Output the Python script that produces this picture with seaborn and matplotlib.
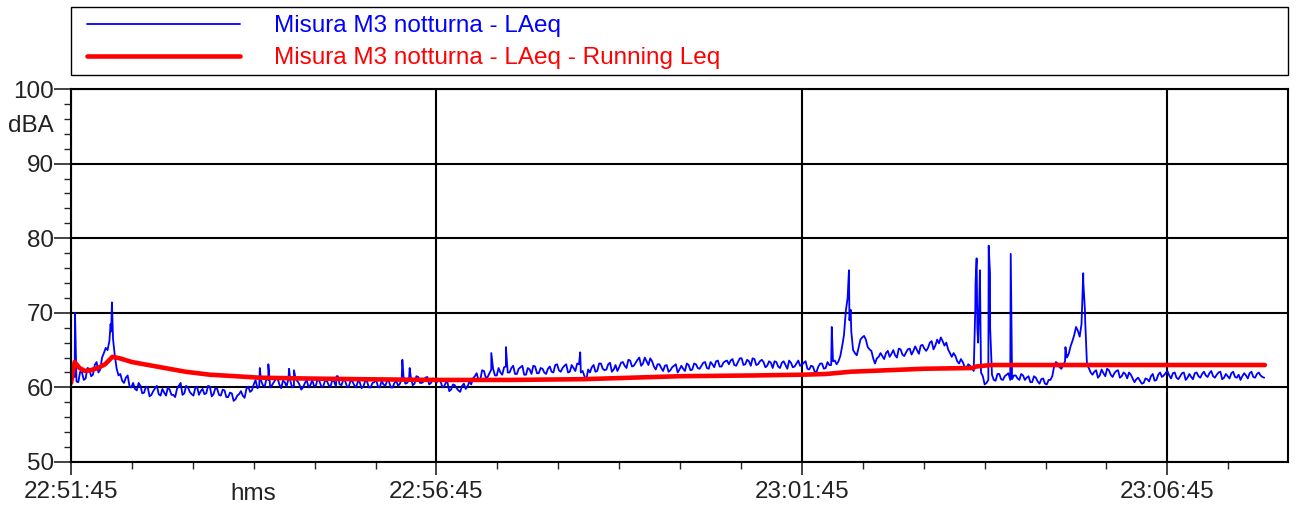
import numpy as np
import pandas as pd
import seaborn as sns
import matplotlib.pyplot as plt
from matplotlib.patches import Rectangle
from matplotlib.ticker import MultipleLocator, FuncFormatter

# ora di inizio della misura (22:51:45) e passo della serie LAeq in secondi
inizio_s = 22 * 3600 + 51 * 60 + 45
passo_s = 3

# LAeq, un valore ogni 3 s (dB), a partire da t = 0
laeq_base = [
    60.6, 61.4, 60.7, 62.0, 61.2, 62.5, 61.7, 63.4, 62.4, 64.6,
    65.0, 67.5, 64.2, 61.6, 60.9, 61.3, 60.2, 60.6, 59.6, 60.2,
    59.3, 60.0, 59.0, 59.9, 59.1, 59.8, 58.9, 59.7, 59.0, 59.8,
    60.6, 59.2, 60.0, 59.1, 59.9, 59.0, 59.8, 59.2, 60.1, 59.1,
    59.8, 58.9, 59.6, 58.7, 59.2, 58.4, 59.1, 58.9, 59.8, 59.4,
    60.4, 59.9, 60.9, 60.1, 61.0, 60.3, 61.1, 60.4, 60.9, 60.1,
    60.9, 60.2, 60.8, 59.7, 60.6, 60.0, 61.0, 60.2, 60.8, 60.1,
    60.9, 60.1, 60.8, 61.5, 60.3, 60.9, 60.1, 60.8, 60.0, 60.7,
    60.1, 60.8, 60.0, 60.7, 60.1, 60.9, 60.2, 60.8, 60.0, 60.9,
    60.5, 61.4, 60.6, 61.3, 60.5, 61.4, 60.6, 61.3, 60.4, 61.2,
    60.6, 61.0, 60.0, 60.7, 59.7, 60.3, 59.6, 60.2, 59.8, 60.8,
    61.2, 61.9, 61.1, 62.2, 61.4, 62.4, 61.6, 62.6, 61.7, 62.8,
    62.0, 62.9, 61.8, 62.7, 61.7, 62.6, 61.8, 62.8, 61.9, 62.5,
    61.8, 62.8, 62.0, 63.1, 62.1, 62.9, 62.0, 63.0, 62.2, 63.1,
    62.2, 61.0, 62.0, 63.0, 62.2, 63.2, 62.3, 63.1, 62.1, 63.0,
    62.7, 63.4, 62.6, 63.6, 62.9, 63.7, 62.9, 64.0, 63.0, 63.5,
    62.4, 63.1, 62.2, 63.0, 62.3, 62.9, 62.0, 62.9, 62.2, 63.0,
    62.4, 63.1, 62.5, 63.3, 62.6, 63.4, 62.7, 63.6, 62.8, 63.5,
    63.1, 63.8, 62.9, 63.9, 63.0, 63.7, 62.9, 63.8, 63.1, 63.7,
    62.7, 63.5, 62.6, 63.4, 62.6, 63.5, 62.5, 63.3, 62.8, 63.6,
    63.0, 63.5, 62.4, 62.8, 62.1, 63.2, 62.5, 63.4, 63.0, 63.6,
    63.5, 65.5, 70.2, 69.0, 65.0, 64.3, 66.4, 66.9, 65.4, 64.9,
    63.2, 64.1, 64.2, 64.6, 64.1, 65.0, 64.0, 65.1, 64.2, 65.1,
    64.4, 65.5, 64.5, 65.7, 64.9, 66.0, 65.1, 66.4, 66.7, 65.6,
    65.1, 64.1, 64.2, 63.2, 63.4, 62.5, 62.9, 62.2, 68.0, 62.0,
    60.4, 61.0, 61.7, 60.9, 61.8, 61.0, 61.7, 61.0, 61.6, 61.2,
    61.8, 61.0, 61.5, 60.7, 61.3, 60.5, 61.2, 60.4, 61.0, 62.8,
    63.2, 62.5, 63.5, 64.5, 66.2, 68.1, 66.8, 74.0, 63.0, 62.0,
    62.1, 61.3, 62.4, 61.5, 62.3, 61.4, 62.2, 61.3, 62.0, 61.2,
    61.7, 60.7, 61.3, 60.5, 61.2, 60.8, 61.8, 61.0, 62.0, 61.6,
    62.2, 61.2, 62.0, 61.1, 61.9, 61.0, 61.8, 61.1, 62.0, 61.3,
    62.1, 61.4, 62.2, 61.3, 62.0, 61.1, 61.8, 61.2, 62.1, 61.3,
    61.0, 61.9, 61.2, 62.1, 61.3, 62.0, 61.4,
]

# LAeq a meta' passo, a partire da t = 1.5 s (dB)
laeq_mezzo = [
    61.5, 60.8, 62.1, 61.0, 62.6, 61.5, 63.0, 62.0, 64.0, 65.3,
    66.2, 66.5, 62.5, 61.8, 60.6, 61.6, 60.0, 59.8, 60.6, 59.2,
    60.1, 58.8, 59.5, 60.2, 58.9, 59.3, 60.0, 59.0, 58.7, 60.2,
    59.0, 60.2, 59.4, 58.9, 60.1, 59.5, 59.1, 60.2, 58.8, 59.9,
    59.0, 59.7, 58.7, 59.3, 58.2, 58.9, 59.5, 58.6, 60.1, 59.6,
    61.0, 60.1, 60.3, 61.2, 60.0, 60.7, 61.3, 59.9, 60.7, 61.2,
    60.0, 61.1, 60.4, 60.0, 61.0, 60.3, 60.2, 61.2, 60.1, 60.9,
    60.3, 61.0, 60.1, 60.4, 61.0, 60.1, 60.9, 60.3, 60.8, 59.9,
    60.9, 60.0, 60.6, 61.0, 60.0, 60.4, 60.9, 60.0, 60.6, 60.2,
    61.2, 60.5, 61.1, 60.3, 61.5, 60.6, 60.8, 61.4, 60.6, 60.9,
    61.1, 60.2, 60.6, 59.5, 60.4, 59.9, 59.4, 60.5, 60.1, 60.4,
    61.5, 61.0, 62.3, 61.3, 61.9, 62.5, 61.6, 62.0, 62.7, 62.0,
    62.6, 61.8, 62.5, 62.9, 61.7, 62.4, 62.9, 61.9, 62.6, 62.0,
    62.5, 62.1, 63.0, 62.3, 62.6, 63.1, 62.1, 62.6, 63.2, 62.0,
    61.5, 62.4, 62.7, 62.1, 63.2, 62.5, 62.4, 63.3, 62.4, 62.2,
    63.3, 62.9, 63.7, 62.8, 63.3, 64.0, 63.2, 63.5, 63.9, 62.8,
    63.1, 62.6, 62.9, 62.1, 62.7, 63.1, 62.4, 62.5, 63.2, 62.3,
    63.2, 62.6, 62.9, 63.4, 62.5, 63.1, 63.5, 62.8, 63.3, 63.6,
    63.6, 63.0, 63.4, 63.9, 63.1, 63.5, 63.9, 63.0, 63.5, 63.4,
    62.9, 63.3, 63.5, 62.8, 63.3, 63.0, 63.6, 62.7, 63.2, 62.9,
    63.3, 62.5, 62.9, 62.1, 62.8, 63.2, 62.6, 63.0, 63.5, 63.1,
    64.2, 67.0, 72.0, 67.5, 64.6, 65.3, 66.7, 66.4, 65.1, 63.9,
    63.9, 64.6, 63.8, 64.9, 64.5, 64.3, 65.2, 64.4, 64.7, 65.2,
    64.9, 65.0, 65.6, 65.2, 65.3, 66.2, 65.6, 65.9, 66.2, 66.0,
    64.6, 64.6, 63.5, 63.8, 62.8, 63.1, 62.6, 74.0, 71.0, 61.5,
    60.6, 68.0, 61.0, 61.8, 61.1, 61.5, 61.9, 61.1, 61.6, 61.0,
    61.6, 61.3, 60.7, 61.5, 60.8, 61.1, 60.5, 61.0, 61.5, 63.4,
    62.7, 63.0, 64.0, 65.5, 67.0, 67.6, 68.5, 69.0, 62.6, 61.7,
    62.3, 61.6, 61.9, 62.5, 61.7, 61.9, 62.3, 61.5, 61.8, 62.0,
    61.2, 61.1, 60.9, 60.6, 61.1, 61.5, 60.9, 61.7, 61.4, 61.9,
    61.6, 61.9, 61.3, 61.5, 62.0, 61.3, 61.4, 61.9, 61.5, 61.8,
    61.6, 61.9, 61.5, 61.7, 62.1, 61.3, 61.5, 61.9, 61.4, 61.7,
    61.5, 61.6, 61.9, 61.4, 61.8, 61.6, 61.3,
]

# picchi brevi (secondi dall'inizio, dB)
picchi_t = [3.3, 32.5, 33.6, 155, 162, 179, 183, 218, 272, 278, 345, 357, 418,
            624.5, 638.6, 640, 742.3, 743.4, 744.6, 746.1, 753.3, 754.4,
            771.4, 816.3, 830.9, 832.3]
picchi_db = [70.0, 68.5, 71.4, 62.6, 63.1, 62.5, 62.3, 61.5, 63.7, 62.6, 64.6, 65.4, 64.7,
             68.1, 75.7, 70.4, 70.5, 77.3, 66.0, 75.7, 79.0, 75.3,
             77.9, 65.4, 75.3, 70.4]

# Running Leq
leq_t = [0, 3, 7, 11.5, 16, 22, 28, 34, 40, 50, 60, 77, 94, 114, 135, 155, 190, 237,
         300, 360, 420, 500, 560, 600, 620, 640, 700, 740, 743, 755, 800, 900, 980]
leq_db = [60.6, 63.4, 62.6, 62.2, 62.3, 62.6, 63.1, 64.1, 63.9, 63.4, 63.1, 62.6, 62.1,
          61.7, 61.5, 61.3, 61.2, 61.1, 61.0, 61.0, 61.1, 61.5, 61.6, 61.7, 61.8, 62.1,
          62.5, 62.6, 62.8, 63.0, 63.0, 63.0, 63.0]

etichetta_laeq = "Misura M3 notturna - LAeq"
etichetta_leq = "Misura M3 notturna - LAeq - Running Leq"

df_laeq = pd.concat([
    pd.DataFrame({"t": np.arange(len(laeq_base)) * passo_s, "dB": laeq_base}),
    pd.DataFrame({"t": np.arange(len(laeq_mezzo)) * passo_s + passo_s / 2, "dB": laeq_mezzo}),
    pd.DataFrame({"t": picchi_t, "dB": picchi_db}),
]).sort_values("t")
df_leq = pd.DataFrame({"t": leq_t, "dB": leq_db})

sns.set_style("white")
plt.rcParams["font.family"] = ["Liberation Sans", "DejaVu Sans"]
plt.rcParams["font.size"] = 17.5

fig = plt.figure(figsize=(12.98, 5.05), dpi=100)
ax = fig.add_axes([71 / 1298, 1 - 462 / 505, 1217 / 1298, 373 / 505])

sns.lineplot(data=df_laeq, x="t", y="dB", ax=ax, color="#0000ff", lw=1.3,
             estimator=None, label=etichetta_laeq, legend=False)
sns.lineplot(data=df_leq, x="t", y="dB", ax=ax, color="#ff0000", lw=3.3,
             estimator=None, label=etichetta_leq, legend=False)

ax.set_xlim(0, 999)
ax.set_ylim(50, 100)
ax.set_xlabel("")
ax.set_ylabel("")

def hms(s, pos):
    s = int(round(inizio_s + s)) % 86400
    return f"{s // 3600:02d}:{(s % 3600) // 60:02d}:{s % 60:02d}"

ax.xaxis.set_major_locator(MultipleLocator(300))
ax.xaxis.set_minor_locator(MultipleLocator(50))
ax.xaxis.set_major_formatter(FuncFormatter(hms))
ax.yaxis.set_major_locator(MultipleLocator(10))
ax.yaxis.set_minor_locator(MultipleLocator(2))

ax.grid(True, which="major", color="black", lw=1.5)
ax.set_axisbelow(True)
for sp in ax.spines.values():
    sp.set_color("black")
    sp.set_linewidth(1.5)

ax.tick_params(axis="y", which="major", length=12, width=1.2, pad=0.5, direction="out", left=True)
ax.tick_params(axis="y", which="minor", length=5, width=1.0, direction="out", left=True)
ax.tick_params(axis="x", which="major", length=9.5, width=1.2, pad=4, direction="out", bottom=True)
ax.tick_params(axis="x", which="minor", length=5, width=1.0, direction="out", bottom=True)
ax.tick_params(colors="#222222", labelcolor="#222222")

ax.text(-17 / 1217, 95, "dBA", transform=ax.get_yaxis_transform(),
        ha="right", va="center", color="#222222")
ax.text(150, -21 / 373, "hms", transform=ax.get_xaxis_transform(),
        ha="center", va="top", color="#222222")

# legenda senza cornice, la cornice e' un rettangolo largo quanto il grafico
leg = fig.legend(loc="upper left", bbox_to_anchor=(87 / 1298, 1 - 15 / 505),
                 ncol=1, frameon=False, handlelength=6.3, handletextpad=1.4,
                 labelspacing=0.43, borderpad=0, borderaxespad=0,
                 labelcolor="linecolor", fontsize=17.5)
fig.patches.append(Rectangle((71 / 1298, 1 - 75 / 505), 1217 / 1298, 68 / 505,
                             transform=fig.transFigure, fill=False,
                             edgecolor="black", lw=1.0))

fig.savefig("out.png", dpi=100)
